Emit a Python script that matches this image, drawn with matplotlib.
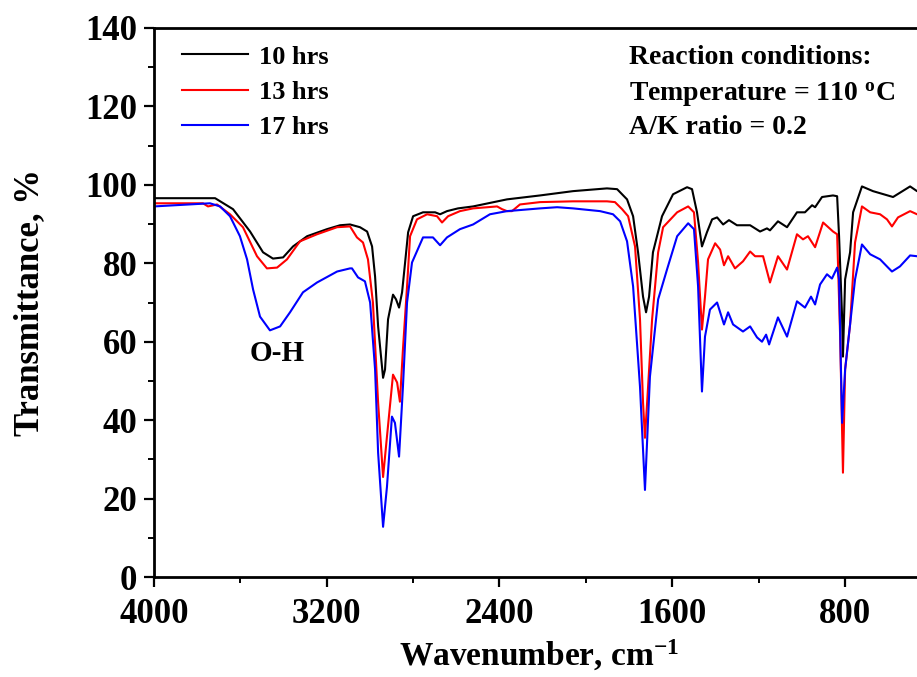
import numpy as np
import matplotlib
matplotlib.use("Agg")
import matplotlib.pyplot as plt
from matplotlib.ticker import MultipleLocator

plt.rcParams['font.family'] = ['Liberation Serif', 'DejaVu Serif']
plt.rcParams['font.weight'] = 'bold'
plt.rcParams['mathtext.fontset'] = 'custom'
plt.rcParams['mathtext.rm'] = 'Liberation Serif:bold'
plt.rcParams['mathtext.bf'] = 'Liberation Serif:bold'
plt.rcParams['mathtext.it'] = 'Liberation Serif:bold'

# FTIR spectra (wavenumber, transmittance %)
wn_10 = [4000, 3717, 3634, 3555, 3495, 3449, 3402, 3356, 3291, 3199, 3138, 3092,
         3046, 3013, 2990, 2976, 2962, 2939, 2930, 2916, 2893, 2879, 2865, 2851,
         2837, 2823, 2800, 2754, 2698, 2675, 2643, 2592, 2522, 2365, 2212, 2059,
         1902, 1855, 1809, 1781, 1758, 1735, 1721, 1707, 1689, 1647, 1596, 1531,
         1508, 1485, 1462, 1439, 1415, 1392, 1364, 1337, 1300, 1239, 1193, 1161,
         1147, 1110, 1068, 1022, 985, 952, 938, 906, 855, 836, 827, 813, 809, 799,
         776, 762, 721, 670, 577, 498, 466, 430]
t_10 = [96.6, 96.6, 93.8, 88.1, 82.8, 81.2, 81.5, 84.3, 86.9, 88.7, 89.7, 89.9,
        89.2, 88.1, 84.3, 76.6, 63.9, 50.8, 52.9, 65.7, 72.0, 70.8, 68.7, 72.6,
        80.2, 87.9, 92.0, 93.0, 93.0, 92.5, 93.3, 94.0, 94.5, 96.3, 97.3, 98.4,
        99.1, 98.9, 96.3, 92.0, 82.8, 71.5, 67.5, 71.5, 82.8, 92.0, 97.6, 99.4,
        98.9, 93.0, 84.3, 87.9, 91.2, 91.7, 89.9, 91.0, 89.7, 89.7, 88.1, 88.9,
        88.4, 90.7, 89.2, 93.0, 93.0, 94.8, 94.3, 96.9, 97.3, 97.1, 86.9, 66.4, 56.2, 75.9,
        82.8, 93.0, 99.6, 98.4, 96.9, 99.6, 98.4, 98.4]

wn_13 = [4000, 3773, 3750, 3708, 3648, 3588, 3523, 3477, 3430, 3384, 3324, 3245,
         3152, 3092, 3060, 3032, 3009, 2986, 2962, 2939, 2921, 2893, 2874, 2861,
         2847, 2828, 2814, 2782, 2735, 2689, 2666, 2638, 2583, 2522, 2411, 2388,
         2365, 2342, 2305, 2212, 2059, 1902, 1865, 1832, 1804, 1772, 1749, 1735,
         1726, 1716, 1693, 1665, 1642, 1577, 1526, 1499, 1480, 1462, 1448, 1434,
         1401, 1378, 1360, 1341, 1309, 1272, 1239, 1216, 1179, 1147, 1110, 1068,
         1022, 994, 971, 938, 901, 855, 836, 822, 809, 799, 776, 753, 721, 683,
         637, 605, 582, 554, 498, 466, 430]
t_13 = [95.3, 95.3, 94.5, 95.0, 92.5, 89.2, 81.8, 78.7, 78.9, 81.0, 85.6, 87.4,
        89.2, 89.4, 86.6, 85.3, 81.0, 70.0, 44.5, 25.5, 35.8, 51.6, 49.6, 44.7,
        58.0, 74.1, 86.9, 91.2, 92.5, 92.0, 90.4, 92.0, 93.3, 94.0, 94.5, 93.8,
        93.3, 93.3, 95.0, 95.6, 95.8, 95.8, 95.6, 93.8, 92.0, 84.3, 65.7, 44.5,
        35.5, 44.5, 65.7, 82.8, 89.2, 93.0, 94.5, 93.0, 80.2, 63.1, 71.5, 81.0,
        85.1, 83.5, 79.5, 81.8, 78.7, 80.5, 83.0, 81.8, 81.8, 75.1, 81.8, 78.4,
        87.4, 86.1, 86.9, 84.1, 90.4, 88.1, 87.4, 61.3, 26.6, 52.9, 64.4, 85.3, 94.5, 93.0,
        92.5, 91.2, 89.4, 91.7, 93.3, 92.5, 92.5]

wn_17 = [4000, 3741, 3694, 3648, 3602, 3569, 3541, 3509, 3463, 3416, 3370, 3310,
         3245, 3152, 3092, 3083, 3055, 3023, 2999, 2976, 2962, 2939, 2921, 2898,
         2884, 2865, 2847, 2828, 2805, 2754, 2708, 2675, 2643, 2583, 2522, 2444,
         2365, 2212, 2133, 2059, 1934, 1874, 1841, 1809, 1781, 1749, 1726, 1703,
         1665, 1624, 1577, 1526, 1499, 1480, 1462, 1448, 1425, 1392, 1360, 1341,
         1318, 1272, 1239, 1207, 1184, 1165, 1151, 1110, 1068, 1022, 985, 957,
         938, 915, 883, 860, 836, 827, 813, 799, 776, 753, 721, 683, 637, 600,
         582, 545, 498, 466, 430]
t_17 = [94.5, 95.3, 94.5, 92.0, 86.9, 81.0, 73.3, 66.4, 62.9, 63.9, 67.5, 72.6,
        75.1, 77.9, 78.7, 78.7, 76.4, 75.4, 70.0, 52.9, 31.7, 12.8, 23.0, 40.9,
        39.3, 30.7, 48.5, 70.0, 80.2, 86.6, 86.6, 84.6, 86.6, 88.7, 89.9, 92.5,
        93.3, 94.0, 94.3, 94.0, 93.3, 92.5, 90.7, 85.6, 74.1, 48.5, 22.2, 51.1,
        70.8, 78.4, 86.9, 90.2, 88.7, 74.1, 47.3, 61.3, 68.2, 70.0, 64.4, 67.5,
        64.4, 62.6, 63.9, 61.1, 60.0, 61.8, 59.3, 66.2, 61.3, 70.3, 68.7, 71.5,
        69.5, 74.6, 77.2, 76.1, 78.9, 75.9, 39.3, 52.9, 64.4, 75.9, 84.8, 82.3, 81.0, 78.9,
        77.9, 79.2, 82.0, 81.8, 81.8]

labels = ['10 hrs', '13 hrs', '17 hrs']
colors = ['black', 'red', 'blue']

W, H = 917, 677
fig = plt.figure(figsize=(W / 100, H / 100), dpi=100)
ax = fig.add_axes([154 / W, (H - 577) / H, 771 / W, 549 / H])

ax.plot(wn_10, t_10, color=colors[0], lw=1.5, label=labels[0])
ax.plot(wn_13, t_13, color=colors[1], lw=1.5, label=labels[1])
ax.plot(wn_17, t_17, color=colors[2], lw=1.5, label=labels[2])

ax.set_xlim(4000, 429)
ax.set_ylim(0, 140)
ax.xaxis.set_major_locator(MultipleLocator(800))
ax.xaxis.set_minor_locator(MultipleLocator(400))
ax.yaxis.set_major_locator(MultipleLocator(20))
ax.yaxis.set_minor_locator(MultipleLocator(10))
ax.tick_params(which='major', length=7, width=1.6, labelsize=25, direction='out')
ax.tick_params(axis='x', which='major', pad=8)
ax.tick_params(axis='y', which='major', pad=5)
ax.tick_params(which='minor', length=4, width=1.4, direction='out')
for s in ax.spines.values():
    s.set_linewidth(2)
ax.spines['right'].set_visible(False)

ax.set_xlabel('Wavenumber, cm$^{-1}$', fontsize=24, fontweight='bold', labelpad=5)
ax.set_ylabel('Transmittance, %', fontsize=25, fontweight='bold', labelpad=28)

ax.legend(loc='upper left', bbox_to_anchor=(169 / W, 1 - 32 / H),
          bbox_transform=fig.transFigure, frameon=False,
          prop={'family': 'Liberation Serif', 'weight': 'bold', 'size': 19},
          handlelength=2.5, handletextpad=0.4, labelspacing=0.45, borderpad=0)

ax.text(3430, 57, 'O-H', fontsize=21, fontweight='bold', ha='center', va='center')

fig.text(629 / W, 1 - 57 / H, 'Reaction conditions:', fontsize=20, fontweight='bold', va='center')
fig.text(629 / W, 1 - 95 / H, 'Temperature = 110 $^{\\rm o}$C', fontsize=20, fontweight='bold', va='center')
fig.text(629 / W, 1 - 128 / H, 'A/K ratio = 0.2', fontsize=20, fontweight='bold', va='center')

fig.savefig('out.png', dpi=100)
